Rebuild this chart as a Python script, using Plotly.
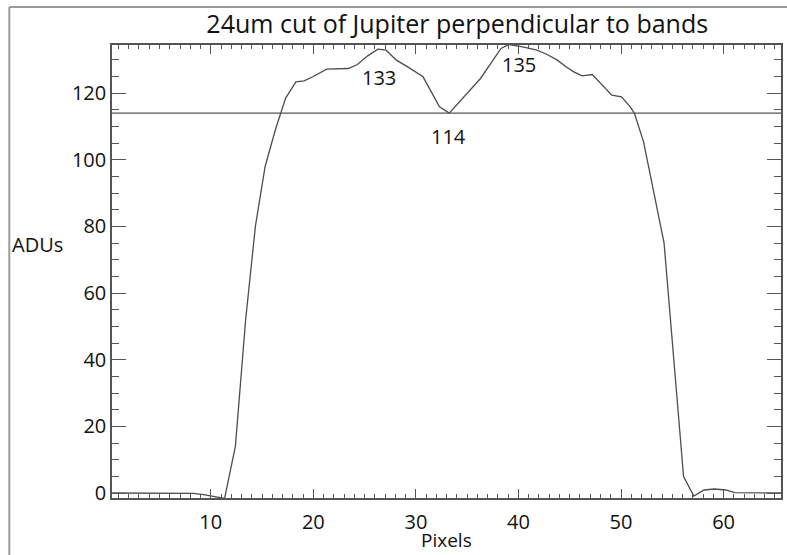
import plotly.graph_objects as go

# Data
pixels = [0.4, 7.3, 8.3, 9.3, 10.3, 11.35, 12.4, 13.4, 14.35, 15.3, 16.3, 17.3, 18.3,
          19.1, 20.0, 21.3, 23.4, 24.3, 25.3, 26.3, 27.1, 28.1, 29.2, 30.7, 32.3,
          33.25, 36.3, 38.3, 39.1, 40.4, 41.8, 42.8, 43.8, 44.6, 45.4, 46.2, 47.2,
          49.1, 50.05, 50.9, 51.3, 52.2, 54.2, 56.1, 57.1, 58.1, 59.1, 60.2, 61.1, 65.6]
adus = [0.0, 0.0, -0.1, -0.5, -1.1, -1.6, 14.0, 52.0, 80.0, 98.0, 109.0, 118.5, 123.4,
        123.7, 125.0, 127.2, 127.4, 128.6, 131.2, 133.2, 132.9, 129.9, 127.9, 124.9, 115.9,
        114.0, 124.4, 133.4, 134.6, 133.9, 132.9, 131.6, 129.9, 128.0, 126.4, 125.2, 125.6,
        119.4, 118.9, 115.9, 114.0, 105.4, 75.0, 4.9, -0.9, 0.9, 1.2, 0.9, 0.1, 0.0]

ref_level = 114
peak_labels = ["133", "114", "135"]
peak_x = [26.4, 33.15, 40.06]
peak_y = [124.8, 107.1, 128.7]

x_range = [0.37, 65.6]
y_range = [-1.5, 134.45]
x_ticks = [10, 20, 30, 40, 50, 60]
y_ticks = [0, 20, 40, 60, 80, 100, 120]

title_text = "24um cut of Jupiter perpendicular to bands"
FONT = "Open Sans, Lato, sans-serif"
AXC = "#555555"
TXT = "#111111"

fig = go.Figure()
fig.add_trace(go.Scatter(x=pixels, y=adus, mode="lines",
                         line=dict(color="#4d4d4d", width=1.3),
                         hoverinfo="skip", showlegend=False))

fig.add_shape(type="line", xref="x domain", yref="y", x0=0, x1=1,
              y0=ref_level, y1=ref_level, line=dict(color="#555555", width=1.3))

for t, xx, yy in zip(peak_labels, peak_x, peak_y):
    fig.add_annotation(x=xx, y=yy, text=t, showarrow=False,
                       font=dict(family=FONT, size=20, color=TXT))

# axis titles
fig.add_annotation(xref="paper", yref="paper", x=(10 - 112) / 671, xanchor="left",
                   y=(498 - 244) / 453, yanchor="middle", text="ADUs",
                   showarrow=False, font=dict(family=FONT, size=20, color=TXT))
fig.add_annotation(xref="paper", yref="paper", x=(448 - 112) / 671, xanchor="center",
                   y=(498 - 555) / 453, yanchor="bottom", text="Pixels",
                   showarrow=False, font=dict(family=FONT, size=19, color=TXT))

# window frame lines of the screenshot
fig.add_shape(type="line", xref="paper", yref="paper", x0=(9 - 112) / 671, x1=(9 - 112) / 671,
              y0=(498 - 7) / 453, y1=-0.2, line=dict(color="#9a9a9a", width=2))
fig.add_shape(type="line", xref="paper", yref="paper", x0=(9 - 112) / 671, x1=1.01,
              y0=(498 - 7) / 453, y1=(498 - 7) / 453, line=dict(color="#9a9a9a", width=2))

fig.update_layout(
    width=787, height=555,
    margin=dict(l=112, r=4, t=45, b=57),
    paper_bgcolor="white", plot_bgcolor="white",
    title=dict(text=title_text, x=0.581, xanchor="center", y=1 - 24 / 555, yanchor="middle",
               font=dict(family=FONT, size=25, color=TXT)),
    font=dict(family=FONT, size=20, color=TXT),
)

fig.update_xaxes(range=x_range, tickvals=x_ticks, ticks="inside", ticklen=9, tickwidth=1.3,
                 tickcolor=AXC, showline=True, linecolor=AXC, linewidth=1.5, mirror="allticks",
                 showgrid=False, zeroline=False, ticklabelstandoff=5,
                 minor=dict(dtick=1, tick0=0, ticks="inside", ticklen=4, tickcolor=AXC, tickwidth=1),
                 tickfont=dict(family=FONT, size=20, color=TXT))
fig.update_yaxes(range=y_range, tickvals=y_ticks, ticks="inside", ticklen=14, tickwidth=1.3,
                 tickcolor=AXC, showline=True, linecolor=AXC, linewidth=1.5, mirror="allticks",
                 showgrid=False, zeroline=False,
                 minor=dict(dtick=5, tick0=0, ticks="inside", ticklen=7, tickcolor=AXC, tickwidth=1),
                 tickfont=dict(family=FONT, size=20, color=TXT))

fig.write_html("out.html")
